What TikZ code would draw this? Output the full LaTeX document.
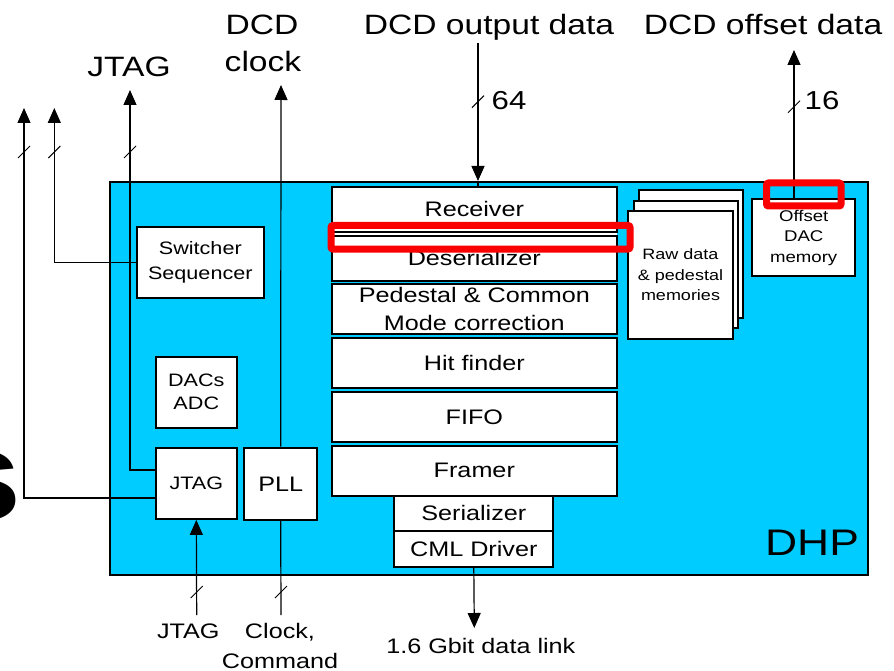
\documentclass[tikz,border=0pt]{standalone}
\usepackage{fontspec}
\setmainfont[FakeStretch=1.2]{Liberation Sans}
\usetikzlibrary{arrows.meta}
\definecolor{dhpcyan}{RGB}{0,204,255}
\definecolor{hlred}{RGB}{250,0,0}
\newcommand{\fsz}[2]{\fontsize{#1}{#2}\selectfont}
\newcommand{\slashmark}[1]{\draw[line width=1pt] (#1) ++(-6,6) -- ++(12,-12);}
\begin{document}
\begin{tikzpicture}[x=1pt,y=-1pt,
  blk/.style={draw,line width=2pt,fill=white,inner sep=0pt,align=center},
  conn/.style={line width=1.2pt},
  arr/.style={conn,-{Triangle[width=13pt,length=15pt]}},
  lbl/.style={inner sep=0pt,anchor=base},
  hl/.style={draw=hlred,line width=7pt,rounded corners=2pt},
]
\clip (0,0) rectangle (894,671);

% big cropped letter at the left edge
\node[inner sep=0pt,anchor=base east,font=\fsz{130}{130}\bfseries] (bigs) at (22,520) {s};

% DHP chip
\node[blk,fill=dhpcyan,minimum width=758pt,minimum height=393pt] (dhp) at (489,378.5) {};
\node[lbl,font=\fsz{37}{40}] (dhplbl) at (812,555) {DHP};

% left blocks
\node[blk,minimum width=127pt,minimum height=71pt,font=\fsz{18}{25}] (sw) at (200.3,262.3) {Switcher\\Sequencer};
\node[blk,minimum width=80.7pt,minimum height=70.7pt,font=\fsz{18}{23}] (dacs) at (196.3,392.3) {DACs\\ADC};
\node[blk,minimum width=80.7pt,minimum height=71.3pt,font=\fsz{18}{22}] (jtagb) at (196.3,483.3) {JTAG};
\node[blk,minimum width=73.3pt,minimum height=72.3pt,font=\fsz{21}{24}] (pll) at (280.7,483.8) {PLL};

% central pipeline
\begin{scope}[every node/.append style={blk,minimum width=284.7pt,font=\fsz{21}{28}}]
\node[minimum height=45pt] (recv) at (474.3,209.2) {Receiver};
\node[minimum height=45pt] (deser) at (474.3,258.2) {Deserializer};
\node[minimum height=50pt] (ped) at (474.3,309.3) {Pedestal \& Common\\Mode correction};
\node[minimum height=49.4pt] (hit) at (474.3,363) {Hit finder};
\node[minimum height=49.7pt] (fifo) at (474.3,416.8) {FIFO};
\node[minimum height=50pt] (framer) at (474.3,470.7) {Framer};
\end{scope}
\fill[white] ([xshift=1pt]recv.south west) rectangle ([xshift=-1pt]deser.north east);
\node[blk,minimum width=159pt,minimum height=34.7pt,font=\fsz{21}{24}] (ser) at (473.8,513.3) {Serializer};
\node[blk,minimum width=159pt,minimum height=36pt,font=\fsz{21}{24}] (cml) at (473.8,548.7) {CML Driver};

% memories
\node[blk,minimum width=103.7pt,minimum height=127.7pt] (rawc) at (690.8,253.8) {};
\node[blk,minimum width=103.7pt,minimum height=127.7pt] (rawb) at (685.8,264.5) {};
\node[blk,minimum width=104.4pt,minimum height=128.3pt,font=\fsz{15}{20.5}] (rawa) at (680.5,274.8) {Raw data\\\& pedestal\\memories};
\node[blk,minimum width=102.7pt,minimum height=76.7pt,font=\fsz{15.5}{20.7}] (offset) at (803.7,237.7) {Offset\\DAC\\memory};

% free ends of connectors
\coordinate (tipL1) at (24,108);
\coordinate (tipL2) at (54.3,108);
\coordinate (tipJ) at (130,90);
\coordinate (tipClk) at (281,85);
\coordinate (top64) at (478,43);
\coordinate (tip16) at (794,50);
\coordinate (botJ) at (196.7,615);
\coordinate (botClk) at (281,615);
\coordinate (tipLink) at (474.3,628);

% connectors
\draw[arr] ([yshift=-14.7pt]jtagb.west) -| (tipL1);
\draw[arr] ([yshift=13.3pt]jtagb.west) -| (tipJ);
\draw[arr] (sw.west) -| (tipL2);
\draw[arr] (pll.north) -- (tipClk);
\draw[conn] (botClk) -- (pll.south);
\draw[arr] (botJ) -- (jtagb.south);
\draw[arr] (top64) -- (top64 |- dhp.north);
\draw[conn] (top64 |- dhp.north) -- (top64 |- recv.north);
\draw[arr] (offset.north -| tip16) -- (tip16);
\draw[arr] (cml.south) -- (tipLink);

% bus-width slashes
\slashmark{24,152}
\slashmark{54.3,152}
\slashmark{130,152}
\slashmark{478,101.7}
\slashmark{794,106.7}
\slashmark{196.7,592}
\slashmark{281,592}

% labels
\begin{scope}[every node/.append style={lbl,font=\fsz{28}{34}}]
\node (lout) at (489,35) {DCD output data};
\node (loff) at (763,35) {DCD offset data};
\node (lclka) at (262,35) {DCD};
\node (lclkb) at (263,72) {clock};
\node (ljt) at (129,77) {JTAG};
\end{scope}
\begin{scope}[every node/.append style={lbl,font=\fsz{26}{30}}]
\node (l64) at (509,110) {64};
\node (l16) at (822,110) {16};
\end{scope}
\begin{scope}[every node/.append style={lbl,font=\fsz{21}{26}}]
\node (ljtb) at (188.3,638) {JTAG};
\node (lclkc) at (280,638) {Clock,};
\node (lcmd) at (280,668) {Command};
\node (llink) at (480.8,653) {1.6 Gbit data link};
\end{scope}

% red highlight frames
\draw[hl] (331,225.5) rectangle (630,249);
\draw[hl] (766.5,183) rectangle (841,206);
\end{tikzpicture}
\end{document}
